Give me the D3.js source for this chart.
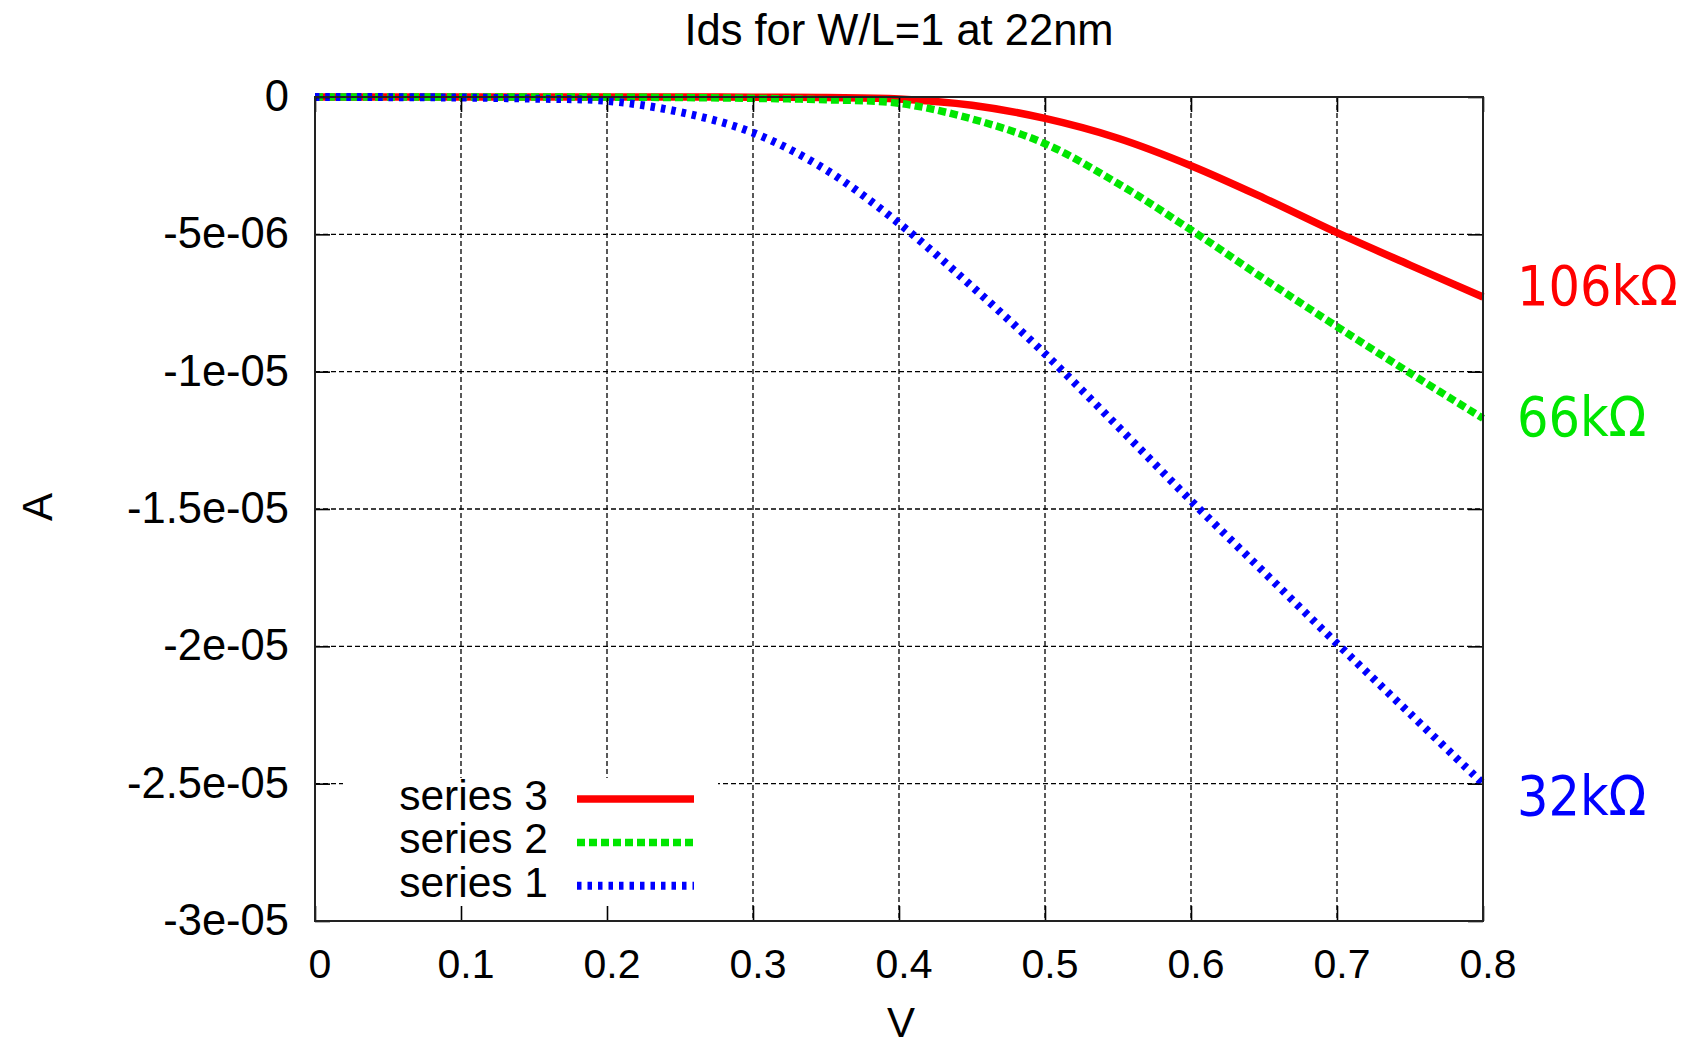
<!DOCTYPE html>
<html>
<head>
<meta charset="utf-8">
<script src="https://cdn.jsdelivr.net/npm/d3@7"></script>
<style>
  html, body { margin: 0; padding: 0; background: #fff; }
  svg { display: block; }
  text { font-family: "Liberation Sans", Arial, sans-serif; fill: #000; }
  .ann { font-family: "DejaVu Sans Condensed", "DejaVu Sans", sans-serif; font-stretch: condensed; }
</style>
</head>
<body>
<svg id="chart" width="1682" height="1047"></svg>
<script>
// gate voltage samples (V)
const volts = [0, 0.05, 0.1, 0.15, 0.2, 0.25, 0.3, 0.35, 0.4, 0.45, 0.5, 0.55, 0.6, 0.65, 0.7, 0.75, 0.8];
// drain current in micro-amps
const series1 = [0, -0.005, -0.02, -0.06, -0.14, -0.55, -1.3, -2.65, -4.6, -6.9, -9.35, -12.0, -14.7, -17.3, -19.9, -22.45, -25.0];
const series2 = [0, 0, 0, 0, -0.005, -0.02, -0.05, -0.1, -0.23, -0.8, -1.7, -3.15, -4.84, -6.62, -8.36, -10.05, -11.7];
const series3 = [0, 0, 0, 0, 0, 0, -0.005, -0.02, -0.07, -0.3, -0.78, -1.5, -2.5, -3.68, -4.94, -6.12, -7.28];

const xTicks = [0, 0.1, 0.2, 0.3, 0.4, 0.5, 0.6, 0.7, 0.8];
const xTickLabels = ['0', '0.1', '0.2', '0.3', '0.4', '0.5', '0.6', '0.7', '0.8'];
const yTicks = [0, -5e-6, -1e-5, -1.5e-5, -2e-5, -2.5e-5, -3e-5];
const yTickLabels = ['0', '-5e-06', '-1e-05', '-1.5e-05', '-2e-05', '-2.5e-05', '-3e-05'];

const seriesNames = ['series 3', 'series 2', 'series 1'];
const seriesData = [series3, series2, series1];
const resistances = ['106kΩ', '66kΩ', '32kΩ'];

const colors = ['#ff0000', '#00e600', '#0000ff'];
const dashes = [null, '8,4', '4.5,6'];
const widths = [7.5, 7.5, 8];

const margin = {left: 315, right: 1483, top: 97, bottom: 921};

const svg = d3.select('#chart');

const x = d3.scaleLinear().domain([0, 0.8]).range([margin.left, margin.right]);
const y = d3.scaleLinear().domain([0, -3e-5]).range([margin.top, margin.bottom]);

// grid
const grid = svg.append('g')
    .attr('stroke', '#000')
    .attr('stroke-width', 1.3)
    .attr('stroke-dasharray', '5,3');
grid.selectAll('line.gx').data(xTicks.slice(1, -1)).enter()
    .append('line')
    .attr('x1', d => x(d)).attr('x2', d => x(d))
    .attr('y1', margin.top).attr('y2', margin.bottom);
grid.selectAll('line.gy').data(yTicks.slice(1, -1)).enter()
    .append('line')
    .attr('y1', d => y(d)).attr('y2', d => y(d))
    .attr('x1', margin.left).attr('x2', margin.right);

// opaque key box
svg.append('rect')
    .attr('x', 343).attr('y', 778)
    .attr('width', 375).attr('height', margin.bottom - 778)
    .attr('fill', '#fff');

// curves
const line = d3.line()
    .x(d => x(d[0]))
    .y(d => y(d[1] * 1e-6))
    .curve(d3.curveCatmullRom);

seriesData.forEach((s, i) => {
  svg.append('path')
      .datum(volts.map((v, j) => [v, s[j]]))
      .attr('d', line)
      .attr('fill', 'none')
      .attr('stroke', colors[i])
      .attr('stroke-width', widths[i])
      .attr('stroke-dasharray', dashes[i]);
});

// axes with inward ticks on all four sides
const tickLen = 15;
const axisStyle = g => {
  g.select('.domain').remove();
  g.selectAll('.tick line').attr('stroke', '#000').attr('stroke-width', 1.6);
  g.selectAll('.tick text').remove();
};
svg.append('g').attr('transform', `translate(0,${margin.bottom})`)
    .call(d3.axisBottom(x).tickValues(xTicks).tickSize(-tickLen)).call(axisStyle);
svg.append('g').attr('transform', `translate(0,${margin.top})`)
    .call(d3.axisTop(x).tickValues(xTicks).tickSize(-tickLen)).call(axisStyle);
svg.append('g').attr('transform', `translate(${margin.left},0)`)
    .call(d3.axisLeft(y).tickValues(yTicks).tickSize(-tickLen)).call(axisStyle);
svg.append('g').attr('transform', `translate(${margin.right},0)`)
    .call(d3.axisRight(y).tickValues(yTicks).tickSize(-tickLen)).call(axisStyle);

svg.append('rect')
    .attr('x', margin.left).attr('y', margin.top)
    .attr('width', margin.right - margin.left)
    .attr('height', margin.bottom - margin.top)
    .attr('fill', 'none')
    .attr('stroke', '#222')
    .attr('stroke-width', 2);

// tick labels
svg.append('g').selectAll('text').data(xTicks).enter()
    .append('text')
    .attr('x', d => x(d) + 5)
    .attr('y', 978)
    .attr('text-anchor', 'middle')
    .attr('font-size', 41)
    .text((d, i) => xTickLabels[i]);

svg.append('g').selectAll('text').data(yTicks).enter()
    .append('text')
    .attr('x', 289)
    .attr('y', d => y(d) + 14)
    .attr('text-anchor', 'end')
    .attr('font-size', 43.5)
    .text((d, i) => yTickLabels[i]);

// titles
svg.append('text')
    .attr('x', 899).attr('y', 45)
    .attr('text-anchor', 'middle')
    .attr('font-size', 43.5)
    .text('Ids for W/L=1 at 22nm');

svg.append('text')
    .attr('x', 901).attr('y', 1037)
    .attr('text-anchor', 'middle')
    .attr('font-size', 42)
    .text('V');

svg.append('text')
    .attr('transform', 'translate(52,507) rotate(-90)')
    .attr('text-anchor', 'middle')
    .attr('font-size', 42)
    .text('A');

// key
const key = svg.append('g');
seriesNames.forEach((name, i) => {
  const cy = 799 + i * 43.4;
  key.append('text')
      .attr('x', 548).attr('y', cy + 11)
      .attr('text-anchor', 'end')
      .attr('font-size', 42.5)
      .text(name);
  key.append('line')
      .attr('x1', 577).attr('x2', 694)
      .attr('y1', cy).attr('y2', cy)
      .attr('stroke', colors[i])
      .attr('stroke-width', widths[i])
      .attr('stroke-dasharray', dashes[i]);
});

// resistance annotations next to the curve ends
const annY = [305, 436, 815];
resistances.forEach((r, i) => {
  svg.append('text')
      .attr('class', 'ann')
      .attr('x', 1517).attr('y', annY[i])
      .attr('font-size', 55)
      .style('fill', colors[i])
      .text(r);
});
</script>
</body>
</html>
